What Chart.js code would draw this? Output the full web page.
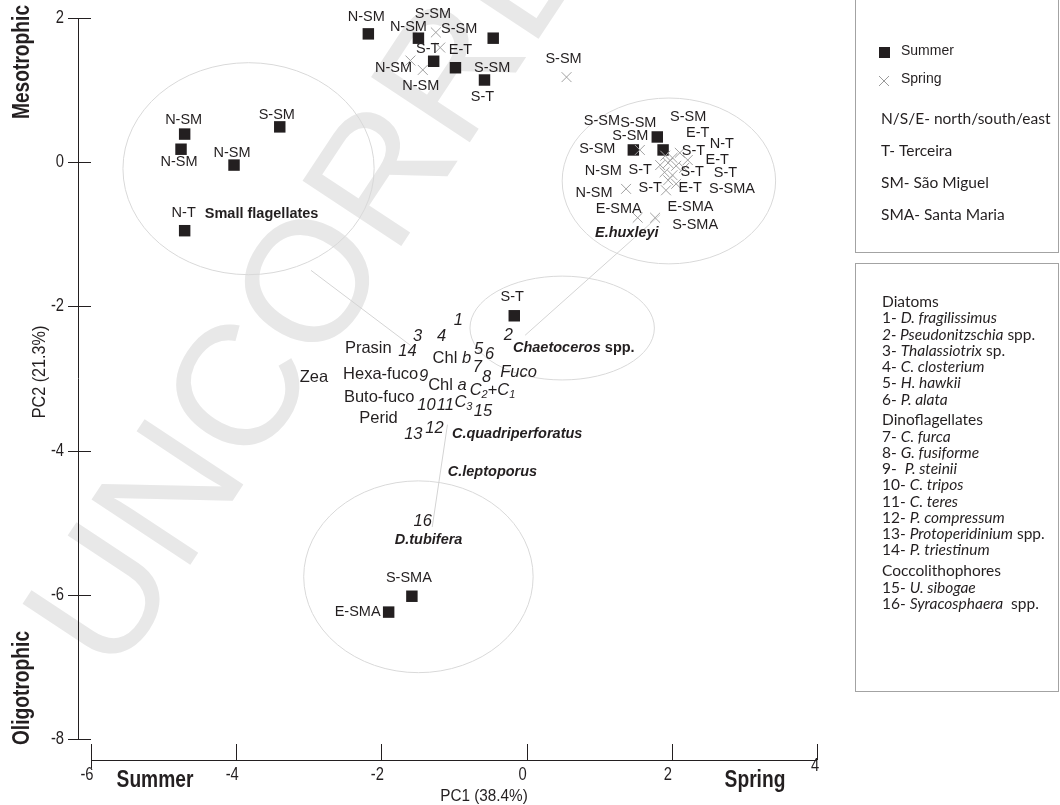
<!DOCTYPE html>
<html>
<head>
<meta charset="utf-8">
<script src="https://cdn.jsdelivr.net/npm/chart.js@4.4.1/dist/chart.umd.min.js"></script>
<style>
  html, body { margin: 0; padding: 0; background: #ffffff; }
  #wrap { width: 1060px; height: 805px; position: relative; }
</style>
</head>
<body>
<div id="wrap"><canvas id="c" width="1060" height="805"></canvas></div>
<script>
// ---- PCA scores of the stations (PC1, PC2) ----
const summerSites = ['N-SM','N-SM','S-SM','S-T','E-T','S-T','N-SM','N-SM','N-SM','S-SM','N-T',
                     'S-SM','S-SM','S-SM','S-T','S-SMA','E-SMA'];
const summerPC1 = [-2.18,-1.49,-0.46,-1.28,-0.98,-0.58,-4.71,-4.76,-4.03,-3.40,-4.71,
                   1.80,1.47,1.88,-0.17,-1.58,-1.90];
const summerPC2 = [1.78,1.72,1.72,1.40,1.31,1.14,0.39,0.18,-0.04,0.49,-0.95,
                   0.35,0.17,0.17,-2.13,-6.02,-6.24];

const springSites = ['S-SM','S-SM','N-SM','N-SM','S-SM',
                     'S-SM','S-SM','S-T','E-T','N-SM','S-T','S-T','E-SMA','S-T','E-T','S-T','E-T',
                     'S-SMA','N-SM','E-SMA','S-SMA','N-T'];
const springPC1 = [-1.25,-1.19,-1.60,-1.43,0.55,
                   1.56,1.91,2.01,2.11,1.84,1.95,2.06,1.90,2.01,2.17,1.95,2.06,
                   1.92,1.37,1.53,1.77,2.22];
const springPC2 = [1.80,1.59,1.41,1.28,1.18,
                   0.17,0.09,0.06,0.13,-0.04,-0.01,-0.05,-0.14,-0.18,-0.08,-0.25,-0.30,
                   -0.39,-0.37,-0.77,-0.77,0.03];

// ---- variable loadings drawn as text ----
const speciesNumbers = ['1','2','3','4','5','6','7','8','9','10','11','12','13','14','15','16'];
const speciesPC1 = [-0.94,-0.25,-1.50,-1.17,-0.66,-0.51,-0.68,-0.55,-1.42,-1.38,-1.12,-1.27,-1.56,-1.64,-0.60,-1.43];
const speciesPC2 = [-2.19,-2.40,-2.42,-2.42,-2.59,-2.66,-2.85,-2.98,-2.97,-3.37,-3.37,-3.69,-3.77,-2.62,-3.46,-4.98];

const pigmentNames = ['Prasin','Chl b','Fuco','Zea','Hexa-fuco','Chl a','C2+C1','Buto-fuco','C3','Perid'];
const pigmentPC1 = [-2.18,-1.03,-0.11,-2.93,-2.01,-1.09,-0.47,-2.03,-0.87,-2.04];
const pigmentPC2 = [-2.58,-2.72,-2.91,-2.98,-2.95,-3.09,-3.16,-3.26,-3.33,-3.55];

const groupNames = ['Small flagellates','E.huxleyi','Chaetoceros spp.','C.quadriperforatus','C.leptoporus','D.tubifera'];
const groupPC1 = [-3.65,1.38,0.65,-0.13,-0.47,-1.35];
const groupPC2 = [-0.72,-0.98,-2.58,-3.77,-4.30,-5.24];

// ---- station groupings (centre and half-axes, in PC units) ----
const ellipseCX = [-3.83,1.96,0.49,-1.49];
const ellipseCY = [-0.09,-0.26,-2.30,-5.75];
const ellipseRX = [1.73,1.47,1.27,1.58];
const ellipseRY = [1.47,1.15,0.72,1.33];

// ---- links between groups and loadings ----
const linkX1 = [-2.97,1.84,-1.09];
const linkY1 = [-1.50,-0.73,-3.64];
const linkX2 = [-1.60,-0.02,-1.30];
const linkY2 = [-2.54,-2.40,-5.06];

// ---- axes ----
const xTicks = [-6,-4,-2,0,2,4];
const yTicks = [2,0,-2,-4,-6,-8];

// ---- label placement (pixel shift of each station label from its marker) ----
const summerShift = [[-2,-17],[-10,-11],[-34,-9],[-6,-12],[5,-18],[-2,17],[-1,-14],[-2,13],[-2,-12],[-3,-12],[-1,-18],
                     [-19,-14],[-3,-14],[25,-33],[-2,-19],[-3,-18],[-31,0]];
const springShift = [[-3,-18],[52,20],[-17,7],[-2,16],[-3,-18],
                     [-38,-29],[-68,-7],[21,-7],[18,-20],[-57,6],[-28,7],[16,6],[26,35],[53,-2],[33,-8],[-18,8],[14,4],
                     [66,-1],[-32,4],[-19,-9],[40,7],[34,-16]];

// ---- key ----
const keyAbbrev = ['N/S/E- north/south/east','T- Terceira','SM- São Miguel','SMA- Santa Maria'];
const keyTaxa = [
  ['Diatoms','1- *D. fragilissimus*','*2- Pseudonitzschia* spp.','3- *Thalassiotrix* sp.','4- *C. closterium*','5- *H. hawkii*','6- *P. alata*'],
  ['Dinoflagellates','7- *C. furca*','8- *G. fusiforme*','9-  *P. steinii*','10- *C. tripos*','11- *C. teres*','12- *P. compressum*','13- *Protoperidinium* spp.','14- *P. triestinum*'],
  ['Coccolithophores','15- *U. sibogae*','16- *Syracosphaera*  spp.']
];

const INK = '#231f20';
const SANS = '"Liberation Sans", Arial, Helvetica, sans-serif';

function drawText(ctx, s, x, y, font, align, sx, color) {
  ctx.save();
  ctx.translate(x, y);
  ctx.scale(sx || 1, 1);
  ctx.font = font;
  ctx.fillStyle = color || INK;
  ctx.textAlign = align || 'center';
  ctx.textBaseline = 'middle';
  ctx.fillText(s, 0, 0);
  ctx.restore();
}

// segments: {t, font, dy}
function drawRich(ctx, segs, x, y, align) {
  ctx.save();
  ctx.textBaseline = 'middle';
  ctx.textAlign = 'left';
  let total = 0;
  segs.forEach(s => { ctx.font = s.font; s.w = ctx.measureText(s.t).width; total += s.w; });
  let cx = align === 'left' ? x : x - total / 2;
  ctx.fillStyle = INK;
  segs.forEach(s => { ctx.font = s.font; ctx.fillText(s.t, cx, y + (s.dy || 0)); cx += s.w; });
  ctx.restore();
}

function pigmentSegments(name) {
  const n = '16.5px ' + SANS, i = 'italic 16.5px ' + SANS, sub = 'italic 11px ' + SANS;
  switch (name) {
    case 'Chl b': return [{t:'Chl ',font:n},{t:'b',font:i}];
    case 'Chl a': return [{t:'Chl ',font:n},{t:'a',font:i}];
    case 'Fuco': return [{t:'Fuco',font:i}];
    case 'C2+C1': return [{t:'C',font:i},{t:'2',font:sub,dy:5},{t:'+',font:n},{t:'C',font:i},{t:'1',font:sub,dy:5}];
    case 'C3': return [{t:'C',font:i},{t:'3',font:sub,dy:5}];
    default: return [{t:name,font:n}];
  }
}

function groupSegments(name) {
  const bi = 'italic bold 14.5px ' + SANS, b = 'bold 14.5px ' + SANS;
  if (name === 'Small flagellates') return [{t:name,font:b}];
  if (name.endsWith(' spp.')) return [{t:name.slice(0,-5),font:bi},{t:' spp.',font:b}];
  return [{t:name,font:bi}];
}

function parseItalic(line, size) {
  const parts = line.split('*');
  return parts.map((t, k) => ({t, font: (k % 2 ? 'italic ' : '') + size + 'px Lato, "Open Sans", sans-serif'})).filter(p => p.t.length);
}

const decor = {
  id: 'biplotDecor',
  beforeDatasetsDraw(chart) {
    const ctx = chart.ctx, xs = chart.scales.x, ys = chart.scales.y;
    // faint watermark
    ctx.save();
    ctx.translate(114, 680);
    ctx.rotate(-56.5 * Math.PI / 180);
    ctx.font = '172px ' + SANS;
    ctx.fillStyle = '#e8e8e8';
    ctx.textBaseline = 'alphabetic';
    ctx.fillText('UNCORRECTED', 0, 0);
    ctx.restore();

    // group envelopes
    ctx.save();
    ctx.strokeStyle = '#d9d9d9';
    ctx.lineWidth = 1;
    for (let k = 0; k < ellipseCX.length; k++) {
      const cx = xs.getPixelForValue(ellipseCX[k]);
      const cy = ys.getPixelForValue(ellipseCY[k]);
      const rx = Math.abs(xs.getPixelForValue(ellipseCX[k] + ellipseRX[k]) - cx);
      const ry = Math.abs(ys.getPixelForValue(ellipseCY[k] + ellipseRY[k]) - cy);
      ctx.beginPath();
      ctx.ellipse(cx, cy, rx, ry, 0, 0, Math.PI * 2);
      ctx.stroke();
    }
    // links
    ctx.strokeStyle = '#d4d4d4';
    for (let k = 0; k < linkX1.length; k++) {
      ctx.beginPath();
      ctx.moveTo(xs.getPixelForValue(linkX1[k]), ys.getPixelForValue(linkY1[k]));
      ctx.lineTo(xs.getPixelForValue(linkX2[k]), ys.getPixelForValue(linkY2[k]));
      ctx.stroke();
    }
    ctx.restore();
  },
  afterDatasetsDraw(chart) {
    const ctx = chart.ctx, xs = chart.scales.x, ys = chart.scales.y;
    const siteFont = '14.5px ' + SANS;

    // station labels
    summerSites.forEach((s, k) => {
      drawText(ctx, s, xs.getPixelForValue(summerPC1[k]) + summerShift[k][0],
               ys.getPixelForValue(summerPC2[k]) + summerShift[k][1], siteFont, 'center');
    });
    springSites.forEach((s, k) => {
      drawText(ctx, s, xs.getPixelForValue(springPC1[k]) + springShift[k][0],
               ys.getPixelForValue(springPC2[k]) + springShift[k][1], siteFont, 'center');
    });

    // loadings
    speciesNumbers.forEach((s, k) => {
      drawText(ctx, s, xs.getPixelForValue(speciesPC1[k]), ys.getPixelForValue(speciesPC2[k]),
               'italic 16.5px ' + SANS, 'center');
    });
    pigmentNames.forEach((s, k) => {
      drawRich(ctx, pigmentSegments(s), xs.getPixelForValue(pigmentPC1[k]), ys.getPixelForValue(pigmentPC2[k]), 'center');
    });
    groupNames.forEach((s, k) => {
      drawRich(ctx, groupSegments(s), xs.getPixelForValue(groupPC1[k]), ys.getPixelForValue(groupPC2[k]), 'center');
    });

    // offset axes
    const area = chart.chartArea;
    const axX = area.left - 13, axY = area.bottom + 21;
    ctx.save();
    ctx.strokeStyle = INK;
    ctx.lineWidth = 1;
    ctx.beginPath();
    ctx.moveTo(axX + 0.5, ys.getPixelForValue(yTicks[0]));
    ctx.lineTo(axX + 0.5, ys.getPixelForValue(yTicks[yTicks.length - 1]));
    yTicks.forEach(v => {
      const py = Math.round(ys.getPixelForValue(v)) + 0.5;
      ctx.moveTo(axX - 10, py); ctx.lineTo(axX + 13, py);
    });
    ctx.moveTo(xs.getPixelForValue(xTicks[0]), axY + 0.5);
    ctx.lineTo(xs.getPixelForValue(xTicks[xTicks.length - 1]), axY + 0.5);
    xTicks.forEach((v, k) => {
      const px = Math.round(xs.getPixelForValue(v)) + 0.5;
      ctx.moveTo(px, axY - 16); ctx.lineTo(px, axY + (k === 0 ? 8 : 0));
    });
    ctx.stroke();
    ctx.restore();

    const tickFont = '18px ' + SANS;
    yTicks.forEach(v => drawText(ctx, String(v), axX - 14, ys.getPixelForValue(v), tickFont, 'right', 0.82));
    xTicks.forEach((v, k) => {
      const last = k === xTicks.length - 1;
      drawText(ctx, String(v), xs.getPixelForValue(v) - (last ? 2 : 4), axY + (last ? 6 : 15), tickFont, 'center', 0.82);
    });

    drawText(ctx, 'PC1 (38.4%)', 484, 796, '17px ' + SANS, 'center', 0.9);
    ctx.save();
    ctx.translate(40, 372);
    ctx.rotate(-Math.PI / 2);
    drawText(ctx, 'PC2 (21.3%)', 0, 0, '18px ' + SANS, 'center', 0.9);
    ctx.restore();

    const boldFont = 'bold 24px ' + SANS;
    drawText(ctx, 'Summer', 155, 780, boldFont, 'center', 0.8);
    drawText(ctx, 'Spring', 755, 780, boldFont, 'center', 0.8);
    [['Mesotrophic', 62], ['Oligotrophic', 688]].forEach(([s, cy]) => {
      ctx.save();
      ctx.translate(22, cy);
      ctx.rotate(-Math.PI / 2);
      drawText(ctx, s, 0, 0, boldFont, 'center', 0.8);
      ctx.restore();
    });

    // key boxes
    ctx.save();
    ctx.strokeStyle = '#a3a3a3';
    ctx.lineWidth = 1;
    ctx.strokeRect(855.5, -2, 203, 254.5);
    ctx.strokeRect(855.5, 263.5, 203, 428);
    ctx.restore();

    ctx.save();
    ctx.fillStyle = INK;
    ctx.fillRect(879, 47, 11, 11);
    ctx.strokeStyle = '#9a9a9a';
    ctx.lineWidth = 1;
    ctx.beginPath();
    ctx.moveTo(879, 76); ctx.lineTo(889, 86);
    ctx.moveTo(889, 76); ctx.lineTo(879, 86);
    ctx.stroke();
    ctx.restore();
    drawText(ctx, 'Summer', 901, 51, '14px ' + SANS, 'left');
    drawText(ctx, 'Spring', 901, 79, '14px ' + SANS, 'left');
    keyAbbrev.forEach((s, k) => drawText(ctx, s, 881, 119 + k * 32, '15.5px Lato, "Open Sans", sans-serif', 'left'));

    let ty = 302;
    keyTaxa.forEach(group => {
      group.forEach(line => {
        drawRich(ctx, parseItalic(line, 15.5), 882, ty, 'left');
        ty += 16.25;
      });
      ty += 4.7;
    });
  }
};

const summerPoints = summerPC1.map((x, k) => ({x, y: summerPC2[k]}));
const springPoints = springPC1.map((x, k) => ({x, y: springPC2[k]}));

new Chart(document.getElementById('c'), {
  type: 'scatter',
  data: {
    datasets: [
      { label: 'Spring', data: springPoints, pointStyle: 'crossRot', pointRadius: 7,
        borderColor: '#a0a0a0', backgroundColor: '#a0a0a0', borderWidth: 1, clip: false },
      { label: 'Summer', data: summerPoints, pointStyle: 'rect', pointRadius: 8.1,
        backgroundColor: INK, borderColor: INK, borderWidth: 0, clip: false }
    ]
  },
  options: {
    responsive: false,
    devicePixelRatio: 1,
    animation: false,
    events: [],
    layout: { padding: { left: 91, right: 243, top: 18, bottom: 66 } },
    scales: {
      x: { type: 'linear', min: -6, max: 4, display: false },
      y: { type: 'linear', min: -8, max: 2, display: false }
    },
    plugins: { legend: { display: false }, tooltip: { enabled: false } }
  },
  plugins: [decor]
});
</script>
</body>
</html>
